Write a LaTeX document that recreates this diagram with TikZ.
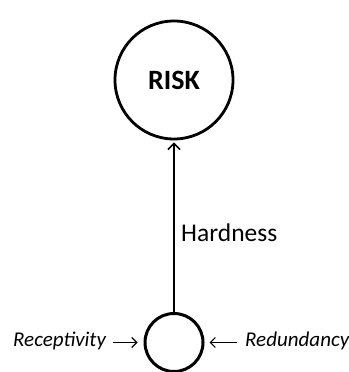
\documentclass[tikz,border=0pt]{standalone}
\usepackage{fontspec}
\setmainfont{Carlito}
\usetikzlibrary{arrows.meta}
\begin{document}
\begin{tikzpicture}[x=1pt,y=1pt,
  bigcirc/.style={circle,draw,line width=2.8pt,minimum size=118pt,inner sep=0pt},
  smallcirc/.style={circle,draw,line width=3pt,minimum size=58pt,inner sep=0pt},
  lbl/.style={inner sep=0pt,font=\fontsize{21}{24}\selectfont\itshape},
  hardarrow/.style={line width=1.6pt,-{Straight Barb[length=6pt,width=12pt,line width=1.6pt]}},
  smallarrow/.style={line width=1.1pt,-{Straight Barb[length=5pt,width=10pt,line width=1.1pt]}}]
\useasboundingbox (0,0) rectangle (348,372);
\node[bigcirc] (risk) at (174,292) {\fontsize{28}{32}\selectfont\bfseries RISK};
\node[smallcirc] (core) at (174,29.5) {};
\node[inner sep=0pt,anchor=base west,font=\fontsize{25.5}{28}\selectfont] (hard) at (181,130) {Hardness};
\node[lbl,anchor=base west] (rec) at (13,25) {Receptivity};
\node[lbl,anchor=base west] (red) at (245,25) {Redundancy};
\draw[hardarrow] (core.north) -- ([yshift=-2pt]risk.south);
\draw[smallarrow,shorten <=7pt,shorten >=6pt] (rec.east |- core.west) -- (core.west);
\draw[smallarrow,shorten <=8pt,shorten >=5pt] (red.west |- core.east) -- (core.east);
\end{tikzpicture}
\end{document}
